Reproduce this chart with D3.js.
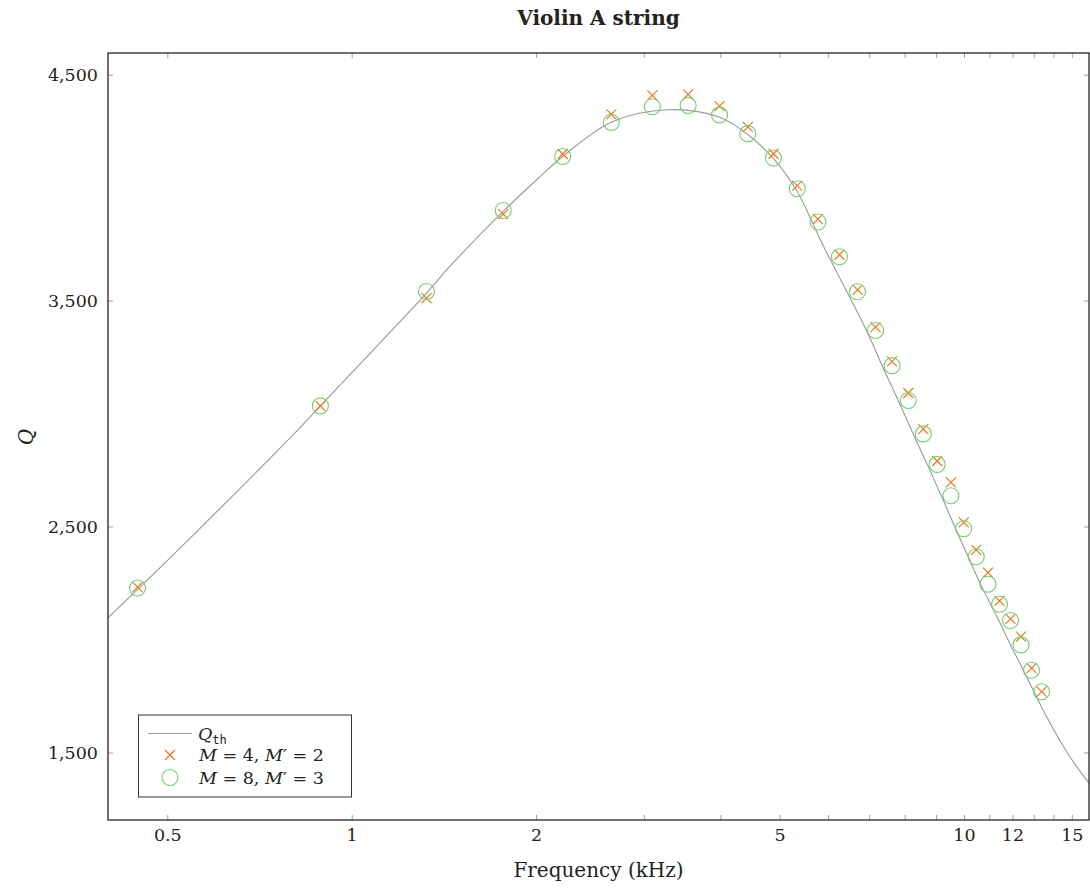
<!DOCTYPE html>
<html lang="en">
<head>
    <meta charset="UTF-8">
    <title>Violin A string</title>
    <script src="https://d3js.org/d3.v7.min.js"></script>
    <style>
        body { margin: 0; background: #fff; }
        svg text { font-family: "DejaVu Serif", serif; fill: #222; }
    </style>
</head>
<body>
<svg id="chart" width="1090" height="888"></svg>

<script>
    // harmonic frequencies (kHz)
    var freqs = [0.447, 0.889, 1.325, 1.768, 2.211, 2.655, 3.098, 3.544, 3.988, 4.435,
        4.885, 5.342, 5.774, 6.26, 6.70, 7.17, 7.63, 8.11, 8.58, 9.04,
        9.52, 9.99, 10.47, 10.94, 11.43, 11.91, 12.39, 12.89, 13.39];
    // M = 4, M' = 2  (crosses)
    var qM4 = [2232, 3034, 3511, 3883, 4149, 4324, 4408, 4413, 4361, 4269,
        4150, 4009, 3861, 3703, 3548, 3383, 3231, 3091, 2931, 2790,
        2695, 2518, 2397, 2296, 2171, 2091, 2013, 1873, 1769];
    // M = 8, M' = 3  (circles)
    var qM8 = [2228, 3034, 3540, 3899, 4138, 4289, 4358, 4364, 4322, 4239,
        4131, 3995, 3848, 3694, 3539, 3368, 3212, 3058, 2910, 2775,
        2636, 2490, 2366, 2245, 2156, 2084, 1976, 1864, 1769];
    // theoretical curve Q_th, sampled by eye
    var thFreq = [0.40, 0.51, 0.822, 0.889, 1.325, 1.446, 1.768, 2.005, 2.211, 2.655,
        3.29, 3.99, 4.44, 4.89, 5.34, 5.86, 6.93, 7.35, 7.81, 8.26,
        8.71, 9.18, 9.69, 10.16, 10.64, 11.05, 11.40, 11.91, 12.50, 13.01,
        13.68, 14.38, 15.2, 16.0];
    var thQ = [2096, 2372, 2936, 3034, 3533, 3651, 3895, 4035, 4138, 4290,
        4345, 4312, 4234, 4127, 3983, 3755, 3368, 3212, 3058, 2910,
        2775, 2636, 2490, 2366, 2245, 2156, 2084, 1976, 1864, 1769,
        1652, 1547, 1445, 1365];

    var xTicks = [0.5, 1, 2, 3, 4, 5, 6, 7, 8, 9, 10, 11, 12, 13, 14, 15];
    var xTickLabels = [0.5, 1, 2, 5, 10, 12, 15];
    var yTicks = [1500, 2500, 3500, 4500];

    var m = {left: 108, right: 1089, top: 53, bottom: 820};

    var svg = d3.select("#chart");

    var x = d3.scaleLog().domain([0.4, 16]).range([m.left, m.right]);
    var y = d3.scaleLinear().domain([1201, 4596]).range([m.bottom, m.top]);

    var tickCol = "#a0a0a0";

    function styleAxis(g) {
        g.select(".domain").remove();
        g.selectAll(".tick line").attr("stroke", tickCol).attr("stroke-width", 1);
        g.selectAll(".tick text").attr("font-size", 17.5).attr("fill", "#222")
            .style("font-family", "'DejaVu Serif', serif");
    }

    var fmtX = function(d) { return xTickLabels.indexOf(d) >= 0 ? d3.format("")(d) : ""; };

    svg.append("g").attr("transform", "translate(0," + m.bottom + ")")
        .call(d3.axisBottom(x).tickValues(xTicks).tickSize(-5).tickPadding(9).tickFormat(fmtX))
        .call(styleAxis);
    svg.append("g").attr("transform", "translate(0," + m.top + ")")
        .call(d3.axisTop(x).tickValues(xTicks).tickSize(-5).tickFormat(""))
        .call(styleAxis);
    svg.append("g").attr("transform", "translate(" + m.left + ",0)")
        .call(d3.axisLeft(y).tickValues(yTicks).tickSize(-5).tickPadding(10).tickFormat(d3.format(",")))
        .call(styleAxis);
    svg.append("g").attr("transform", "translate(" + m.right + ",0)")
        .call(d3.axisRight(y).tickValues(yTicks).tickSize(-5).tickFormat(""))
        .call(styleAxis);

    // clip
    svg.append("clipPath").attr("id", "clip").append("rect")
        .attr("x", m.left).attr("y", m.top)
        .attr("width", m.right - m.left).attr("height", m.bottom - m.top);

    var plot = svg.append("g").attr("clip-path", "url(#clip)");

    var thData = thFreq.map(function(f, i) { return [f, thQ[i]]; });
    var line = d3.line()
        .x(function(d) { return x(d[0]); })
        .y(function(d) { return y(d[1]); })
        .curve(d3.curveCatmullRom.alpha(0.5));

    plot.append("path").datum(thData)
        .attr("d", line)
        .attr("fill", "none")
        .attr("stroke", "#999")
        .attr("stroke-width", 1.1);

    var crossCol = "#f2700f", circCol = "#6fcf6f";
    var cs = 5;

    plot.selectAll(".m4").data(freqs).enter().append("path")
        .attr("class", "m4")
        .attr("d", function(f, i) {
            var cx = x(f), cy = y(qM4[i]);
            return "M" + (cx - cs) + "," + (cy - cs) + "L" + (cx + cs) + "," + (cy + cs) +
                "M" + (cx - cs) + "," + (cy + cs) + "L" + (cx + cs) + "," + (cy - cs);
        })
        .attr("stroke", crossCol).attr("stroke-width", 1.1).attr("fill", "none");

    plot.selectAll(".m8").data(freqs).enter().append("circle")
        .attr("class", "m8")
        .attr("cx", function(f) { return x(f); })
        .attr("cy", function(f, i) { return y(qM8[i]); })
        .attr("r", 8)
        .attr("fill", "none").attr("stroke", circCol).attr("stroke-width", 1.1);

    // frame
    svg.append("rect")
        .attr("x", m.left).attr("y", m.top)
        .attr("width", m.right - m.left).attr("height", m.bottom - m.top)
        .attr("fill", "none").attr("stroke", "#111").attr("stroke-width", 1.2);

    // title and labels
    svg.append("text").attr("x", (m.left + m.right) / 2).attr("y", 25)
        .attr("text-anchor", "middle").attr("font-size", 20).attr("font-weight", "bold")
        .text("Violin A string");

    svg.append("text").attr("x", (m.left + m.right) / 2).attr("y", 877)
        .attr("text-anchor", "middle").attr("font-size", 20)
        .text("Frequency (kHz)");

    svg.append("text").attr("transform", "translate(33,437) rotate(-90)")
        .attr("text-anchor", "middle").attr("font-size", 20).attr("font-style", "italic")
        .text("Q");

    // legend
    var lg = svg.append("g");
    lg.append("rect").attr("x", 138.5).attr("y", 715).attr("width", 213).attr("height", 82)
        .attr("fill", "#fff").attr("stroke", "#333").attr("stroke-width", 1);

    lg.append("line").attr("x1", 148).attr("x2", 192).attr("y1", 733.5).attr("y2", 733.5)
        .attr("stroke", "#999").attr("stroke-width", 1.1);
    var t0 = lg.append("text").attr("x", 198).attr("y", 740).attr("font-size", 17.5);
    t0.append("tspan").attr("font-style", "italic").text("Q");
    t0.append("tspan").attr("dy", 4).attr("font-size", 12)
        .style("font-family", "'DejaVu Sans Mono', monospace").text("th");

    lg.append("path")
        .attr("d", "M165,750L175,760M165,760L175,750")
        .attr("stroke", crossCol).attr("stroke-width", 1.1).attr("fill", "none");
    lg.append("circle").attr("cx", 170).attr("cy", 777.5).attr("r", 8)
        .attr("fill", "none").attr("stroke", circCol).attr("stroke-width", 1.1);

    function mathLabel(yy, a, b) {
        var t = lg.append("text").attr("x", 199).attr("y", yy).attr("font-size", 17.5);
        t.append("tspan").attr("font-style", "italic").text("M");
        t.append("tspan").text(" = " + a + ", ");
        t.append("tspan").attr("font-style", "italic").text("M");
        t.append("tspan").text("\u2032 = " + b);
    }
    mathLabel(761, 4, 2);
    mathLabel(784, 8, 3);
</script>
</body>
</html>
